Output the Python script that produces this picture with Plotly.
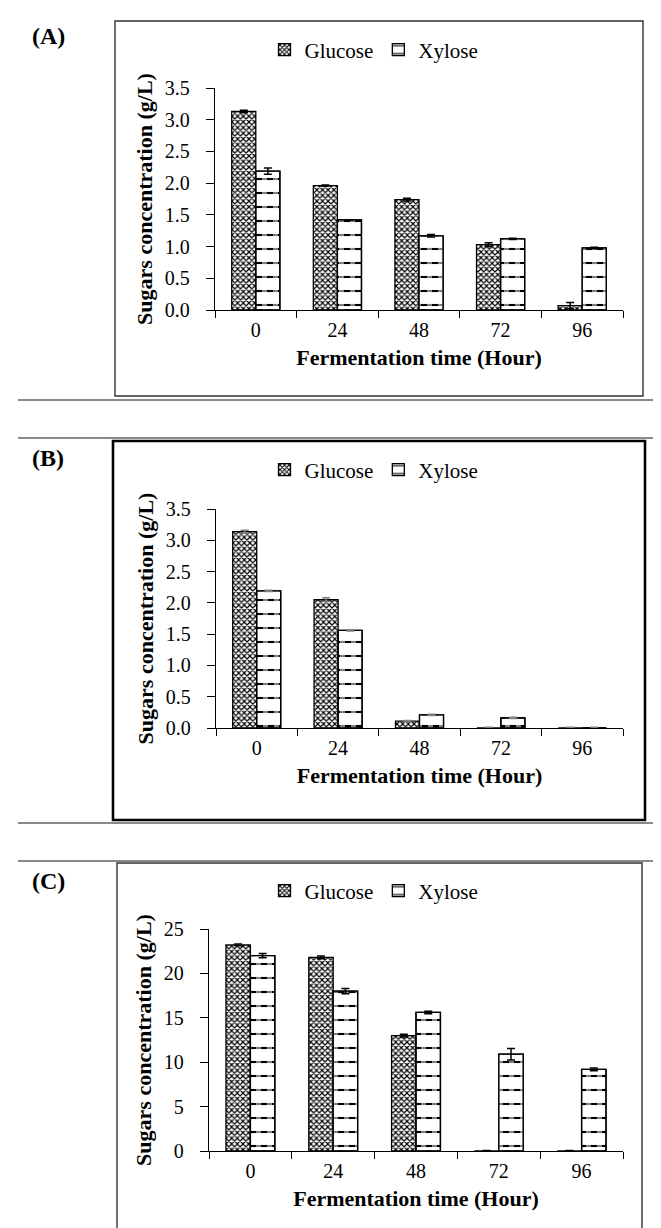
import plotly.graph_objects as go

W, H = 661, 1228

hours = ["0", "24", "48", "72", "96"]

A_glucose = [3.13, 1.96, 1.74, 1.03, 0.07]
A_glucose_err = [0.02, 0.01, 0.02, 0.03, 0.05]
A_xylose = [2.19, 1.42, 1.17, 1.12, 0.98]
A_xylose_err = [0.05, 0.0, 0.02, 0.01, 0.01]

B_glucose = [3.14, 2.05, 0.11, 0.0, 0.0]
B_glucose_err = [0.02, 0.03, 0.01, 0.01, 0.01]
B_xylose = [2.19, 1.56, 0.21, 0.16, 0.0]
B_xylose_err = [0.01, 0.01, 0.01, 0.01, 0.01]

C_glucose = [23.2, 21.8, 13.0, 0.0, 0.0]
C_glucose_err = [0.1, 0.15, 0.15, 0.05, 0.05]
C_xylose = [22.0, 18.0, 15.6, 10.9, 9.2]
C_xylose_err = [0.25, 0.3, 0.15, 0.65, 0.15]

FONT = "Liberation Serif"


def px_x(v):
    return v / W


def px_y(v):
    return 1 - v / H


fig = go.Figure()

panels = [
    ("A", A_glucose, A_glucose_err, A_xylose, A_xylose_err, "black", "", "legend"),
    ("B", B_glucose, B_glucose_err, B_xylose, B_xylose_err, "#808080", "2", "legend2"),
    ("C", C_glucose, C_glucose_err, C_xylose, C_xylose_err, "black", "3", "legend3"),
]

for name, g, ge, xy, xe, ecol, sfx, leg in panels:
    xa = "x" + sfx
    ya = "y" + sfx
    fig.add_trace(go.Bar(
        x=hours, y=g, name="Glucose", xaxis=xa, yaxis=ya, legend=leg,
        offsetgroup="g",
        marker=dict(color="white", line=dict(color="black", width=1.3),
                    pattern=dict(shape="x", fgcolor="black", bgcolor="white",
                                 size=4, solidity=0.5, fillmode="replace")),
        error_y=dict(type="data", array=ge, visible=True, color=ecol,
                     thickness=1.5, width=4),
    ))
    fig.add_trace(go.Bar(
        x=hours, y=xy, name="Xylose", xaxis=xa, yaxis=ya, legend=leg,
        offsetgroup="x",
        marker=dict(color="white", line=dict(color="black", width=1.3),
                    pattern=dict(shape="-", fgcolor="black", bgcolor="white",
                                 size=14, solidity=0.15, fillmode="replace")),
    ))
    # white vertical cuts to break the horizontal lines into dashes
    fig.add_trace(go.Bar(
        x=hours, y=xy, name="Xylose", xaxis=xa, yaxis=ya, legend=leg,
        offsetgroup="x", showlegend=False, hoverinfo="skip",
        marker=dict(color="rgba(0,0,0,0)", line=dict(color="black", width=1.3),
                    pattern=dict(shape="|", fgcolor="white",
                                 size=11, solidity=0.45, fillmode="overlay")),
        error_y=dict(type="data", array=xe, visible=True, color=ecol,
                     thickness=1.5, width=4),
    ))

geo = {
    "": dict(x0=207, x1=615, y0=302, y1=80, yr=[0, 3.5], dt=0.5, fmt=".1f"),
    "2": dict(x0=208, x1=615, y0=720, y1=501, yr=[0, 3.5], dt=0.5, fmt=".1f"),
    "3": dict(x0=201, x1=615, y0=1143, y1=921, yr=[0, 25], dt=5, fmt="d"),
}

for sfx, gm in geo.items():
    fig.update_layout(**{
        "xaxis" + sfx: dict(
            domain=[px_x(gm["x0"]), px_x(gm["x1"])], anchor="y" + sfx,
            type="category", showline=True, linecolor="black", linewidth=1.3,
            ticks="outside", ticklen=7, tickcolor="black", tickwidth=1.3,
            tickson="boundaries", showgrid=False, zeroline=False,
            tickfont=dict(family=FONT, size=20, color="black"),
            ticklabelstandoff=2, automargin=False, fixedrange=True,
            title=dict(text="<b>Fermentation time (Hour)</b>",
                       font=dict(family=FONT, size=22, color="black"),
                       standoff=9),
        ),
        "yaxis" + sfx: dict(
            domain=[px_y(gm["y0"]), px_y(gm["y1"])], anchor="x" + sfx,
            range=gm["yr"], dtick=gm["dt"], tick0=0, tickformat=gm["fmt"],
            showline=True, linecolor="black", linewidth=1.3,
            ticks="outside", ticklen=8, tickcolor="black", tickwidth=1.3,
            showgrid=False, zeroline=False,
            tickfont=dict(family=FONT, size=20, color="black"),
            ticklabelstandoff=12, automargin=False, fixedrange=True,
            title=dict(text="<b>Sugars concentration (g/L)</b>",
                       font=dict(family=FONT, size=22, color="black"),
                       standoff=6),
        ),
    })

legend_common = dict(orientation="h", xanchor="center", yanchor="middle",
                     bgcolor="rgba(0,0,0,0)", itemwidth=30,
                     font=dict(family=FONT, size=21, color="black"),
                     traceorder="normal")
fig.update_layout(
    legend=dict(x=px_x(366), y=px_y(42), **legend_common),
    legend2=dict(x=px_x(366), y=px_y(462), **legend_common),
    legend3=dict(x=px_x(366), y=px_y(883), **legend_common),
)

shapes = []


def rect(x0, y0, x1, y1, color, width):
    shapes.append(dict(type="rect", xref="paper", yref="paper",
                       x0=px_x(x0), x1=px_x(x1), y0=px_y(y0), y1=px_y(y1),
                       line=dict(color=color, width=width), layer="below"))


def hline(y, color, width):
    shapes.append(dict(type="line", xref="paper", yref="paper",
                       x0=px_x(10), x1=1, y0=px_y(y), y1=px_y(y),
                       line=dict(color=color, width=width), layer="below"))


rect(107, 13, 635, 388, "#333333", 1.4)
hline(392, "#8a8a8a", 2)
hline(430, "#8a8a8a", 2)
rect(105, 433, 637, 812, "black", 2.6)
hline(815, "#8a8a8a", 2)
hline(853, "#8a8a8a", 2)
rect(109, 855, 634, 1260, "#333333", 1.4)

annotations = []
for lab, y in [("(A)", 28), ("(B)", 450), ("(C)", 873)]:
    annotations.append(dict(text="<b>" + lab + "</b>", xref="paper", yref="paper",
                            x=px_x(40), y=px_y(y), xanchor="center", yanchor="middle",
                            showarrow=False,
                            font=dict(family=FONT, size=24, color="black")))

fig.update_layout(
    width=W, height=H, template="none",
    margin=dict(l=0, r=0, t=0, b=0, pad=0),
    paper_bgcolor="white", plot_bgcolor="white",
    barmode="group", bargap=0.41, bargroupgap=0,
    font=dict(family=FONT, color="black"),
    shapes=shapes, annotations=annotations,
)

fig.write_html("out.html")
